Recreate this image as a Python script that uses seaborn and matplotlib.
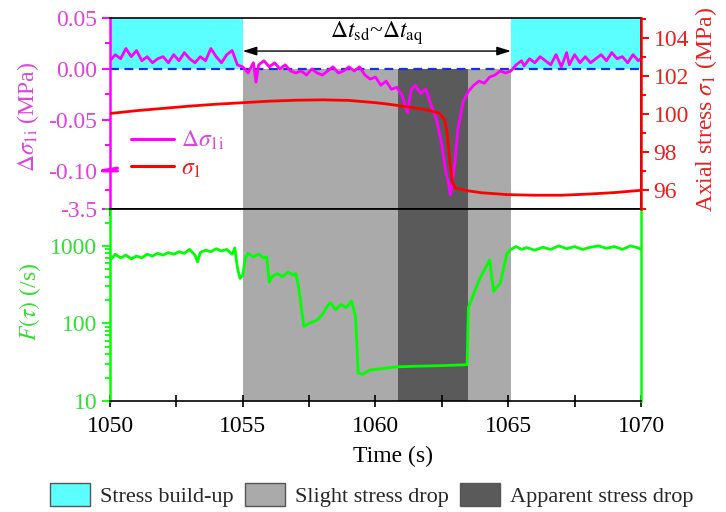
import numpy as np
import matplotlib
matplotlib.use("Agg")
import matplotlib.pyplot as plt
import seaborn as sns
from matplotlib.lines import Line2D
from matplotlib.patches import Patch
from matplotlib.ticker import FixedLocator, FuncFormatter, LogLocator, NullFormatter, MultipleLocator

# ---------------- data ----------------
# phase boundaries (s)
phase_edges = [1050.0, 1055.0, 1060.85, 1063.5, 1065.1, 1070.0]
phase_kind = ["build", "slight", "apparent", "slight", "build"]
phase_names = ["Stress build-up", "Slight stress drop", "Apparent stress drop"]

# stress change  Δσ1i (MPa)
t_ds = [1050.0, 1050.2, 1050.4, 1050.6, 1050.8, 1051.0, 1051.2, 1051.4, 1051.6, 1051.8,
        1052.0, 1052.2, 1052.4, 1052.6, 1052.8, 1053.0, 1053.2, 1053.4, 1053.6, 1053.8,
        1054.0, 1054.2, 1054.4, 1054.6, 1054.8, 1055.0, 1055.2, 1055.4, 1055.5, 1055.6,
        1055.8, 1056.0, 1056.2, 1056.4, 1056.6, 1056.8, 1057.0, 1057.2, 1057.4, 1057.6,
        1057.8, 1058.0, 1058.2, 1058.4, 1058.6, 1058.8, 1059.0, 1059.2, 1059.4, 1059.6,
        1059.8, 1060.0, 1060.2, 1060.4, 1060.6, 1060.8, 1061.0, 1061.2, 1061.35, 1061.5,
        1061.7, 1061.9, 1062.1, 1062.3, 1062.5, 1062.65, 1062.75, 1062.82, 1062.9, 1063.0,
        1063.1, 1063.3, 1063.5, 1063.7, 1063.9, 1064.1, 1064.3, 1064.5, 1064.7, 1064.9,
        1065.1, 1065.3, 1065.5, 1065.6, 1065.8, 1066.0, 1066.2, 1066.4, 1066.6, 1066.8,
        1067.0, 1067.2, 1067.3, 1067.5, 1067.7, 1067.9, 1068.1, 1068.3, 1068.5, 1068.7,
        1068.9, 1069.1, 1069.3, 1069.5, 1069.7, 1069.9, 1070.0]
ds = [0.008, 0.014, 0.010, 0.020, 0.012, 0.018, 0.008, 0.012, 0.006, 0.010,
      0.012, 0.006, 0.014, 0.008, 0.016, 0.010, 0.006, 0.012, 0.008, 0.020,
      0.012, 0.006, 0.014, 0.018, 0.004, 0.002, -0.004, 0.006, -0.013, 0.004,
      0.008, 0.002, 0.006, 0.000, 0.004, -0.002, -0.004, -0.002, -0.006, 0.000,
      -0.004, -0.006, -0.002, 0.002, -0.004, -0.002, 0.002, -0.002, 0.002, -0.006,
      -0.010, -0.008, -0.016, -0.012, -0.020, -0.018, -0.026, -0.043, -0.020, -0.016,
      -0.024, -0.020, -0.036, -0.050, -0.075, -0.200, -1.200, -2.250, -1.000, -0.090,
      -0.060, -0.032, -0.022, -0.016, -0.012, -0.014, -0.008, -0.006, -0.002, -0.004,
      -0.002, 0.004, 0.008, 0.003, 0.010, 0.006, 0.012, 0.008, 0.004, 0.014,
      0.002, 0.016, 0.004, 0.014, 0.006, 0.012, 0.006, 0.010, 0.014, 0.008,
      0.016, 0.010, 0.012, 0.006, 0.014, 0.008, 0.010]

# axial stress σ1 (MPa)
t_s1 = [1050, 1051, 1052, 1053, 1054, 1055, 1056, 1057, 1058, 1059, 1060, 1060.5,
        1061, 1061.5, 1062, 1062.4, 1062.6, 1062.7, 1062.8, 1062.9, 1063.0, 1063.5,
        1064, 1065, 1066, 1067, 1068, 1069, 1070]
s1 = [100.03, 100.18, 100.30, 100.42, 100.52, 100.60, 100.68, 100.73, 100.75, 100.72,
      100.60, 100.52, 100.42, 100.32, 100.20, 100.05, 99.70, 99.00, 97.50, 96.40,
      96.10, 95.95, 95.85, 95.75, 95.72, 95.72, 95.78, 95.86, 95.98]

# F(τ) (/s)
t_f = [1050.0, 1050.2, 1050.4, 1050.6, 1050.8, 1051.0, 1051.2, 1051.4, 1051.6, 1051.8,
       1052.0, 1052.2, 1052.4, 1052.6, 1052.8, 1053.0, 1053.2, 1053.3, 1053.4, 1053.6,
       1053.8, 1054.0, 1054.2, 1054.4, 1054.6, 1054.7, 1054.8, 1054.9, 1055.0, 1055.1,
       1055.2, 1055.4, 1055.6, 1055.8, 1055.9, 1056.0, 1056.1, 1056.3, 1056.5, 1056.7,
       1056.9, 1057.0, 1057.1, 1057.3, 1057.5, 1057.8, 1058.0, 1058.2, 1058.3, 1058.5,
       1058.7, 1058.9, 1059.1, 1059.25, 1059.35, 1059.5, 1059.8, 1060.2, 1060.8, 1061.5,
       1062.5, 1063.45, 1063.5, 1063.9, 1064.3, 1064.45, 1064.7, 1064.95, 1065.1, 1065.3,
       1065.5, 1065.7, 1066.0, 1066.3, 1066.6, 1066.9, 1067.2, 1067.5, 1067.8, 1068.1,
       1068.4, 1068.7, 1069.0, 1069.3, 1069.6, 1069.9, 1070.0]
fval = [650, 780, 700, 760, 680, 740, 700, 780, 740, 800,
        760, 820, 780, 840, 800, 900, 760, 620, 820, 880,
        840, 920, 860, 900, 780, 940, 520, 380, 420, 700,
        800, 720, 780, 700, 720, 340, 400, 440, 400, 460,
        420, 440, 300, 92, 100, 110, 130, 170, 185, 150,
        175, 160, 195, 120, 23, 22, 25, 26, 27.5, 28,
        28.5, 29.3, 160, 360, 660, 260, 330, 800, 900, 980,
        900, 950, 880, 960, 900, 1000, 920, 980, 900, 960,
        1000, 930, 980, 900, 1000, 940, 900]

# ---------------- style ----------------
sns.set_theme(style="ticks")
plt.rcParams["font.family"] = ["Liberation Serif", "DejaVu Serif"]
plt.rcParams["mathtext.fontset"] = "stix"

MAG, MAG_T = "#FF00FF", "#DD44DD"
RED, RED_T = "#FF0000", "#E82020"
GRN, GRN_T = "#00FF00", "#33DD33"
CYAN, LGRAY, DGRAY = "#5CFFFF", "#AAAAAA", "#5A5A5A"
fill_col = {"build": CYAN, "slight": LGRAY, "apparent": DGRAY}
FS = 17

K = 0.01096  # compression of the broken part of the left axis


def fwd(y):
    y = np.asarray(y, float)
    return np.where(y >= -0.1, y, -0.1 + (y + 0.1) * K)


def inv(u):
    u = np.asarray(u, float)
    return np.where(u >= -0.1, u, -0.1 + (u + 0.1) / K)


fig = plt.figure(figsize=(7.26, 5.12), dpi=100)
ax1 = fig.add_axes([0.1515, 0.592, 0.7314, 0.373])
ax2 = fig.add_axes([0.1515, 0.217, 0.7314, 0.375], sharex=ax1)

# ---------------- top panel ----------------
ax1.set_yscale("function", functions=(fwd, inv))
ax1.set_ylim(-3.5, 0.05)
ax1.set_xlim(1050, 1070)
for i, kind in enumerate(phase_kind):
    xs = [phase_edges[i], phase_edges[i + 1]]
    if kind == "build":
        ax1.fill_between(xs, 0.0, 0.05, color=fill_col[kind], lw=0, zorder=0)
    else:
        ax1.fill_between(xs, -3.5, 0.0, color=fill_col[kind], lw=0, zorder=0)
        ax2.fill_between(xs, 10, 3000, color=fill_col[kind], lw=0, zorder=0)

ax1.axhline(0.0, color="#1a2fe0", ls=(0, (4, 2.5)), lw=1.6, zorder=1)
sns.lineplot(x=t_ds, y=ds, ax=ax1, color=MAG, lw=2.0, zorder=3)

ax1.annotate("", xy=(phase_edges[1], 0.0175), xytext=(phase_edges[4], 0.0175),
             arrowprops=dict(arrowstyle="<|-|>,head_length=0.7,head_width=0.22",
                             color="black", lw=1.0, shrinkA=0, shrinkB=0))
ax1.text((phase_edges[1] + phase_edges[4]) / 2, 0.0305,
         r"$\Delta t_{\mathrm{sd}}$~$\Delta t_{\mathrm{aq}}$",
         ha="center", va="baseline", fontsize=FS, color="black")

ax1.yaxis.set_major_locator(FixedLocator([0.05, 0.0, -0.05, -0.10, -3.5]))
ax1.yaxis.set_minor_locator(FixedLocator([0.025, -0.025, -0.075, float(inv(-0.1186))]))
ax1.yaxis.set_major_formatter(FuncFormatter(lambda v, p: "-3.5" if v < -1 else f"{v:.2f}"))
ax1.xaxis.set_major_locator(MultipleLocator(5))
ax1.xaxis.set_minor_locator(MultipleLocator(2.5))
ax1.tick_params(axis="x", which="both", direction="out", labelbottom=False,
                color="black", width=1.2, length=5)
ax1.tick_params(axis="y", which="both", direction="out", colors=MAG, labelcolor=MAG_T,
                labelsize=FS, width=1.4, pad=3)
ax1.tick_params(axis="y", which="major", length=6)
ax1.tick_params(axis="y", which="minor", length=3.5)
ax1.spines["left"].set_color(MAG)
ax1.spines["left"].set_linewidth(1.8)
for s in ["top", "bottom", "right"]:
    ax1.spines[s].set_color("black")
    ax1.spines[s].set_linewidth(1.2)
ax1.set_ylabel(r"$\Delta\sigma_{1\mathrm{i}}$ (MPa)", color=MAG_T, fontsize=FS)
ax1.yaxis.set_label_coords(-0.13, 0.48)
# axis-break mark
trans = ax1.get_yaxis_transform()
for yy in (-0.0985, -0.1035):
    ax1.plot([-0.014, 0.014], [yy - 0.0012, yy + 0.0012], transform=trans,
             color=MAG, lw=2.2, clip_on=False, zorder=5)

# right axis: σ1
axr = ax1.twinx()
sns.lineplot(x=t_s1, y=s1, ax=axr, color=RED, lw=2.0)
axr.set_ylim(95.0, 105.07)
axr.yaxis.set_major_locator(FixedLocator([96, 98, 100, 102, 104]))
axr.yaxis.set_minor_locator(MultipleLocator(1))
axr.tick_params(axis="y", which="both", direction="out", colors=RED, labelcolor=RED_T,
                labelsize=FS, width=1.4, pad=3)
axr.tick_params(axis="y", which="major", length=6)
axr.tick_params(axis="y", which="minor", length=3.5)
for s in ["left", "top", "bottom"]:
    axr.spines[s].set_visible(False)
axr.spines["right"].set_color(RED)
axr.spines["right"].set_linewidth(1.8)
axr.set_ylabel(r"Axial stress $\sigma_1$ (MPa)", color=RED_T, fontsize=FS)
axr.yaxis.set_label_coords(1.098, 0.52)

handles = [Line2D([], [], color=MAG, lw=2.2), Line2D([], [], color=RED, lw=2.2)]
axr.legend(handles, [r"$\Delta\sigma_{1\mathrm{i}}$", r"$\sigma_1$"], loc="lower left",
           bbox_to_anchor=(0.0, 0.04), frameon=False, fontsize=FS,
           labelcolor=[MAG_T, RED_T], handlelength=1.8, handletextpad=0.3,
           labelspacing=0.25)

# ---------------- bottom panel ----------------
sns.lineplot(x=t_f, y=fval, ax=ax2, color=GRN, lw=2.0, zorder=3)
ax2.set_yscale("log")
ax2.set_ylim(10, 3000)
ax2.set_xlim(1050, 1070)
ax2.yaxis.set_major_locator(FixedLocator([10, 100, 1000]))
ax2.yaxis.set_major_formatter(FuncFormatter(lambda v, p: f"{v:g}"))
ax2.yaxis.set_minor_locator(LogLocator(base=10, subs=np.arange(2, 10)))
ax2.yaxis.set_minor_formatter(NullFormatter())
ax2.tick_params(axis="y", which="both", direction="out", colors=GRN, labelcolor=GRN_T,
                labelsize=FS, width=1.3, pad=3)
ax2.tick_params(axis="y", which="major", length=6)
ax2.tick_params(axis="y", which="minor", length=3.5)
ax2.tick_params(axis="x", which="both", direction="inout", colors="black", labelsize=FS,
                width=1.2, length=8, pad=7)
ax2.spines["left"].set_color(GRN)
ax2.spines["right"].set_color(GRN)
ax2.spines["left"].set_linewidth(1.8)
ax2.spines["right"].set_linewidth(1.8)
ax2.spines["top"].set_color("black")
ax2.spines["bottom"].set_color("black")
ax2.spines["bottom"].set_linewidth(1.2)
ax2.set_ylabel(r"$F(\tau)$ (/s)", color=GRN_T, fontsize=FS)
ax2.yaxis.set_label_coords(-0.126, 0.515)
ax2.set_xlabel("Time (s)", fontsize=FS, color="black")
ax2.xaxis.set_label_coords(0.533, -0.235)

# ---------------- phase legend ----------------
leg_handles = [Patch(facecolor=CYAN, edgecolor="#555555", lw=1.0),
               Patch(facecolor=LGRAY, edgecolor="#555555", lw=1.0),
               Patch(facecolor=DGRAY, edgecolor="#555555", lw=1.0)]
fig.legend(leg_handles, phase_names, loc="lower left", bbox_to_anchor=(0.042, -0.03),
           ncol=3, frameon=False, fontsize=16, handlelength=1.8, handleheight=1.2,
           columnspacing=0.5, handletextpad=0.45, borderpad=0.4)

fig.savefig("out.png", dpi=100)
